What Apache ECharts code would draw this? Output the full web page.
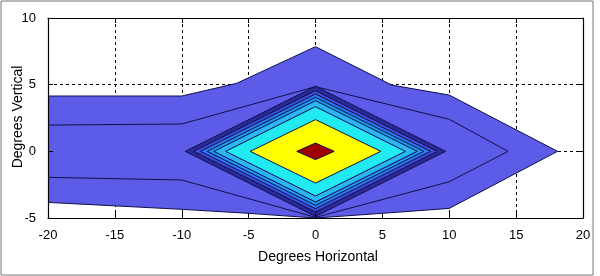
<!DOCTYPE html>
<html>
<head>
<meta charset="utf-8">
<script src="https://cdn.jsdelivr.net/npm/echarts@6/dist/echarts.min.js"></script>
<style>
html,body{margin:0;padding:0;background:#fff;}
#c{width:600px;height:276px;}
</style>
</head>
<body>
<div id="c"></div>
<script>
// ---- data (degrees) ----
var xTitle = 'Degrees Horizontal';
var yTitle = 'Degrees Vertical';
var xTicks = [-20, -15, -10, -5, 0, 5, 10, 15, 20];
var yTicks = [-5, 0, 5, 10];

// outermost filled contour
var outerX = [-20, -10, -5.9, 0, 5.7, 10, 18.1, 10, 5, 0, -5, -10, -20];
var outerY = [4.15, 4.15, 5.1, 7.85, 4.97, 4.22, 0, -4.28, -4.65, -5, -4.65, -4.35, -3.83];

// second contour line (same fill level, drawn as a line)
var lineX = [-20, -10, 0, 10, 14.4, 10, 0, -10, -20];
var lineY = [1.97, 2.05, 4.85, 2.4, 0, -2.28, -4.95, -2.15, -1.95];

// nested diamond contours around the beam centre: half-width, half-height
var diamondHW = [9.73, 9.1, 8.6, 8.1, 7.6, 6.72, 4.88, 1.4];
var diamondHH = [4.88, 4.55, 4.3, 4.05, 3.8, 3.35, 2.38, 0.62];
var diamondColors = ['#2a2a9a', '#3c4ed8', '#2d78ee', '#1c98f2', '#2ab6f0', '#22eaf2', '#ffff00', '#a00000'];
var outerColor = '#5c5ce8';
</script>
<script>
var chart = echarts.init(document.getElementById('c'), null, {renderer: 'canvas'});
var font = 'Liberation Sans, Arial, Helvetica, sans-serif';

function polyItem(api, xs, ys) {
  var pts = [];
  for (var i = 0; i < xs.length; i++) pts.push(api.coord([xs[i], ys[i]]));
  return pts;
}

var shapes = [{kind: 'outer'}, {kind: 'line'}];
for (var k = 0; k < diamondHW.length; k++) shapes.push({kind: 'diamond', k: k});

var option = {
  animation: false,
  backgroundColor: '#fff',
  grid: {left: 48, right: 17, top: 18, bottom: 58, containLabel: false, outerBoundsMode: 'none'},
  graphic: [{
    type: 'rect', shape: {x: 1, y: 1, width: 592, height: 274},
    style: {fill: 'none', stroke: '#777', lineWidth: 1}, z: 100
  }, {
    type: 'text', x: 318, y: 257,
    style: {text: xTitle, font: '14px ' + font, fill: '#000', align: 'center', verticalAlign: 'middle'}
  }, {
    type: 'text', x: 18, y: 117, rotation: Math.PI / 2,
    style: {text: yTitle, font: '14px ' + font, fill: '#000', align: 'center', verticalAlign: 'middle'}
  }],
  xAxis: [{
    type: 'value', min: -20, max: 20, interval: 5, position: 'bottom', z: 10,
    axisLine: {show: true, onZero: false, lineStyle: {color: '#000', width: 1.2}},
    axisTick: {show: true, inside: true, length: 5, lineStyle: {color: '#000'}},
    axisLabel: {fontFamily: font, fontSize: 13, color: '#000', margin: 11},
    splitLine: {show: false}
  }, {
    type: 'value', min: -20, max: 20, interval: 5, position: 'top', z: 0,
    axisLine: {show: true, onZero: false, lineStyle: {color: '#000', width: 1.2}},
    axisTick: {show: true, inside: true, length: 5, lineStyle: {color: '#000'}},
    axisLabel: {show: false},
    splitLine: {show: true, lineStyle: {color: '#000', width: 1, type: [3, 3]}}
  }],
  yAxis: [{
    type: 'value', min: -5, max: 10, interval: 5, position: 'left', z: 10,
    axisLine: {show: true, onZero: false, lineStyle: {color: '#000', width: 1.2}},
    axisTick: {show: true, inside: true, length: 5, lineStyle: {color: '#000'}},
    axisLabel: {fontFamily: font, fontSize: 13, color: '#000', margin: 12},
    splitLine: {show: false}
  }, {
    type: 'value', min: -5, max: 10, interval: 5, position: 'right', z: 0,
    axisLine: {show: true, onZero: false, lineStyle: {color: '#000', width: 1.2}},
    axisTick: {show: true, inside: true, length: 5, lineStyle: {color: '#000'}},
    axisLabel: {show: false},
    splitLine: {show: true, lineStyle: {color: '#000', width: 1, type: [3, 3]}}
  }],
  series: [{
    type: 'custom',
    xAxisIndex: 0, yAxisIndex: 0,
    clip: true,
    data: shapes.map(function (s, i) { return [i]; }),
    renderItem: function (params, api) {
      var s = shapes[params.dataIndex];
      if (s.kind === 'outer') {
        return {type: 'polygon', shape: {points: polyItem(api, outerX, outerY)},
          style: {fill: outerColor, stroke: '#10104a', lineWidth: 1}};
      }
      if (s.kind === 'line') {
        return {type: 'polyline', shape: {points: polyItem(api, lineX, lineY)},
          style: {fill: null, stroke: '#10104a', lineWidth: 1}};
      }
      var hw = diamondHW[s.k], hh = diamondHH[s.k];
      var dx = [-hw, 0, hw, 0], dy = [0, hh, 0, -hh];
      return {type: 'polygon', shape: {points: polyItem(api, dx, dy)},
        style: {fill: diamondColors[s.k], stroke: '#10104a', lineWidth: 1}};
    }
  }]
};
chart.setOption(option);
</script>
</body>
</html>
